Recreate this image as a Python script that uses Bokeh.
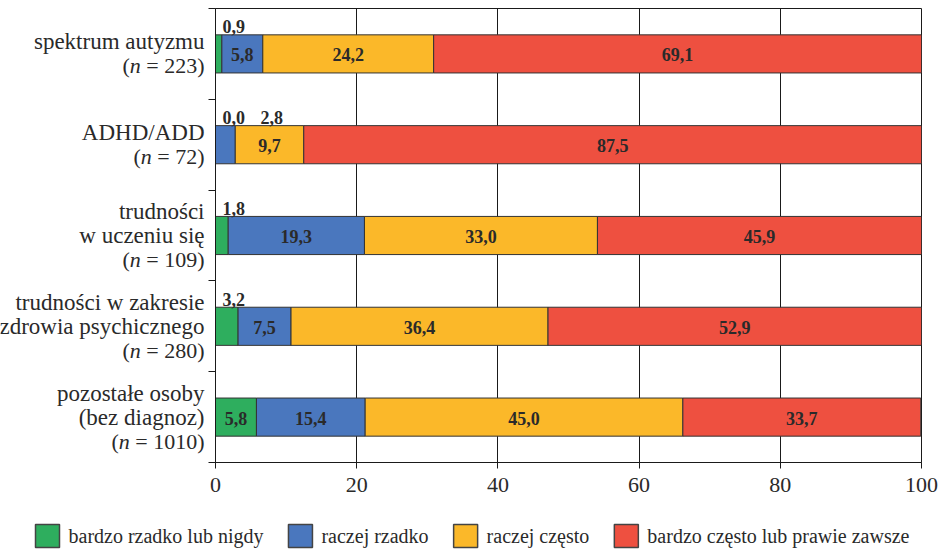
from bokeh.plotting import figure
from bokeh.layouts import row, column
from bokeh.models import ColumnDataSource, Range1d, FixedTicker
from bokeh.core.properties import value
from bokeh.embed import file_html
from bokeh.resources import INLINE

# Groups (top to bottom): label lines and group size
group_lines = [
    ["spektrum autyzmu"],
    ["ADHD/ADD"],
    ["trudności", "w uczeniu się"],
    ["trudności w zakresie", "zdrowia psychicznego"],
    ["pozostałe osoby", "(bez diagnoz)"],
]
group_n = [223, 72, 109, 280, 1010]
series_names = [
    "bardzo rzadko lub nigdy",
    "raczej rzadko",
    "raczej często",
    "bardzo często lub prawie zawsze",
]
# answer shares in percent
bardzo_rzadko = [0.9, 0.0, 1.8, 3.2, 5.8]
raczej_rzadko = [5.8, 2.8, 19.3, 7.5, 15.4]
raczej_czesto = [24.2, 9.7, 33.0, 36.4, 45.0]
bardzo_czesto = [69.1, 87.5, 45.9, 52.9, 33.7]
x_ticks = [0, 20, 40, 60, 80, 100]

colors = ["#2eae5e", "#4a77be", "#fbb829", "#ee5040"]
SERIF = "Liberation Serif"
INK = "#2a2a2a"
BAR_H = 0.42
SMALL = 4.0  # segments narrower than this get their label above the bar
CAT_PX = 23   # group name lines
N_PX = 22     # "(n = …)" line
LEG_PX = 20   # legend labels
LINE_PX = 24
MAIN_H = 510
TOP, BOTTOM = 8, 48

# Times-compatible advance widths (per 1000 units)
ADV = {"(": 333, ")": 333, " ": 250, "=": 564,
       "a": 444, "b": 500, "c": 444, "d": 500, "e": 444, "g": 500, "i": 278,
       "j": 278, "k": 500, "l": 278, "n": 500, "o": 500, "p": 500, "r": 333,
       "s": 389, "t": 278, "u": 500, "w": 722, "y": 500, "z": 444, "ę": 444}
for d in "0123456789":
    ADV[d] = 500


def adv(s, px):
    return sum(ADV.get(c, 500) for c in s) * px / 1000.0


series = [bardzo_rzadko, raczej_rzadko, raczej_czesto, bardzo_czesto]
ypos = [i + 0.5 for i in range(len(group_lines))]
y_range = Range1d(5, 0)

# ---------------- main chart ----------------
p = figure(width=742, height=MAIN_H, x_range=Range1d(0, 100), y_range=y_range,
           output_backend="svg", toolbar_location=None,
           min_border_left=10, min_border_right=26, min_border_top=TOP,
           min_border_bottom=BOTTOM)
p.outline_line_color = "#1a1a1a"
p.outline_line_width = 1

left = [0.0] * len(ypos)
lab_x, lab_y, lab_t, lab_align, lab_xoff, lab_yoff, lab_base = [], [], [], [], [], [], []
above_count = [0] * len(ypos)
for name, vals, col in zip(series_names, series, colors):
    right = [l + v for l, v in zip(left, vals)]
    src = ColumnDataSource(dict(y=ypos, left=left, right=right))
    p.hbar(y="y", left="left", right="right", height=BAR_H, source=src,
           fill_color=col, line_color="#333333", line_width=1)
    for i, v in enumerate(vals):
        lab_t.append(f"{v:.1f}".replace(".", ","))
        if v < SMALL:
            lab_x.append(left[i])
            lab_y.append(ypos[i] - BAR_H / 2)
            lab_align.append("left")
            lab_xoff.append(7 + 38 * above_count[i])
            lab_yoff.append(-8)
            lab_base.append("alphabetic")
            above_count[i] += 1
        else:
            lab_x.append((left[i] + right[i]) / 2)
            lab_y.append(ypos[i])
            lab_align.append("center")
            lab_xoff.append(0)
            lab_yoff.append(1)
            lab_base.append("middle")
    left = right

lsrc = ColumnDataSource(dict(x=lab_x, y=lab_y, t=lab_t, align=lab_align,
                             xo=lab_xoff, yo=lab_yoff, base=lab_base))
p.text(x="x", y="y", text="t", source=lsrc, text_align="align",
       text_baseline="base", x_offset="xo", y_offset="yo",
       text_font=value(SERIF), text_font_style="bold",
       text_font_size="18px", text_color=INK)

xa = p.xaxis[0]
xa.ticker = FixedTicker(ticks=x_ticks)
xa.major_tick_out = 6
xa.major_tick_in = 0
xa.minor_tick_out = 0
xa.minor_tick_in = 0
xa.axis_line_color = "#1a1a1a"
xa.major_tick_line_color = "#1a1a1a"
xa.major_label_text_font = SERIF
xa.major_label_text_font_size = "22px"
xa.major_label_text_color = INK
xa.major_label_standoff = 9

# y axis: only the tick marks between groups
ya = p.yaxis[0]
ya.ticker = FixedTicker(ticks=[], minor_ticks=[0, 1, 2, 3, 4, 5])
ya.major_tick_out = 0
ya.major_tick_in = 0
ya.minor_tick_out = 7
ya.minor_tick_in = 0
ya.minor_tick_line_color = "#1a1a1a"
ya.axis_line_color = "#1a1a1a"
ya.major_label_standoff = 0

p.ygrid.grid_line_color = None
p.xgrid.grid_line_color = "#1a1a1a"
p.xgrid.grid_line_alpha = 1.0
p.xgrid.grid_line_width = 1

# ---------------- group labels (left column) ----------------
LW = 205
lf = figure(width=LW, height=MAIN_H, x_range=Range1d(0, LW), y_range=y_range,
            output_backend="svg", toolbar_location=None,
            min_border_left=0, min_border_right=0, min_border_top=TOP,
            min_border_bottom=BOTTOM, x_axis_location=None, y_axis_location=None)
lf.outline_line_color = None
lf.grid.grid_line_color = None

XR = LW - 1
rx, ry, rt, rxo, ryo = [], [], [], [], []
nx, ny, nt, nxo, nyo = [], [], [], [], []
ix, iy, it, ixo, iyo = [], [], [], [], []
for y, lines, n in zip(ypos, group_lines, group_n):
    total = len(lines) + 1
    for j, line in enumerate(lines):
        rx.append(XR); ry.append(y); rt.append(line)
        rxo.append(0); ryo.append((j - (total - 1) / 2) * LINE_PX)
    yo = ((total - 1) - (total - 1) / 2) * LINE_PX
    rest = f"= {n})"
    w_rest = adv(" " + rest, N_PX)
    w_n = adv("n", N_PX)
    nx.append(XR); ny.append(y); nt.append(rest); nxo.append(0); nyo.append(yo)
    nx.append(XR); ny.append(y); nt.append("("); nxo.append(-(w_rest + w_n)); nyo.append(yo)
    ix.append(XR); iy.append(y); it.append("n"); ixo.append(-w_rest); iyo.append(yo)

lf.text(x="x", y="y", text="t", x_offset="xo", y_offset="yo",
        source=ColumnDataSource(dict(x=rx, y=ry, t=rt, xo=rxo, yo=ryo)),
        text_align="right", text_baseline="middle", text_font=value(SERIF),
        text_font_size=f"{CAT_PX}px", text_color=INK)
lf.text(x="x", y="y", text="t", x_offset="xo", y_offset="yo",
        source=ColumnDataSource(dict(x=nx, y=ny, t=nt, xo=nxo, yo=nyo)),
        text_align="right", text_baseline="middle", text_font=value(SERIF),
        text_font_size=f"{N_PX}px", text_color=INK)
lf.text(x="x", y="y", text="t", x_offset="xo", y_offset="yo",
        source=ColumnDataSource(dict(x=ix, y=iy, t=it, xo=ixo, yo=iyo)),
        text_align="right", text_baseline="middle", text_font=value(SERIF),
        text_font_style="italic", text_font_size=f"{N_PX}px", text_color=INK)

# ---------------- legend strip (swatch + label per series) ----------------
LH = 549 - MAIN_H
gf = figure(width=947, height=LH, x_range=Range1d(0, 947), y_range=Range1d(LH, 0),
            output_backend="svg", toolbar_location=None,
            min_border_left=0, min_border_right=0, min_border_top=0,
            min_border_bottom=0, x_axis_location=None, y_axis_location=None)
gf.outline_line_color = None
gf.grid.grid_line_color = None
gf.background_fill_color = "white"
gf.border_fill_color = "white"

SW, SH = 24, 23          # swatch size
LEG_X0, LEG_Y = 35, 25.5  # first swatch left edge, row centre
STANDOFF, GAP = 9, 25
sx, tx = [], []
cur = LEG_X0
for name in series_names:
    sx.append(cur + SW / 2)
    tx.append(cur + SW + STANDOFF)
    cur = cur + SW + STANDOFF + adv(name, LEG_PX) + GAP

gf.rect(x=sx, y=[LEG_Y] * len(sx), width=SW, height=SH, fill_color=colors,
        line_color="#444444", line_width=1.5)
gf.text(x=tx, y=[LEG_Y] * len(tx), text=series_names, text_align="left",
        text_baseline="middle", text_font=value(SERIF),
        text_font_size=f"{LEG_PX}px", text_color=INK)

layout = column(row(lf, p, spacing=0), gf, spacing=0)
open("out.html", "w").write(file_html(layout, INLINE))
